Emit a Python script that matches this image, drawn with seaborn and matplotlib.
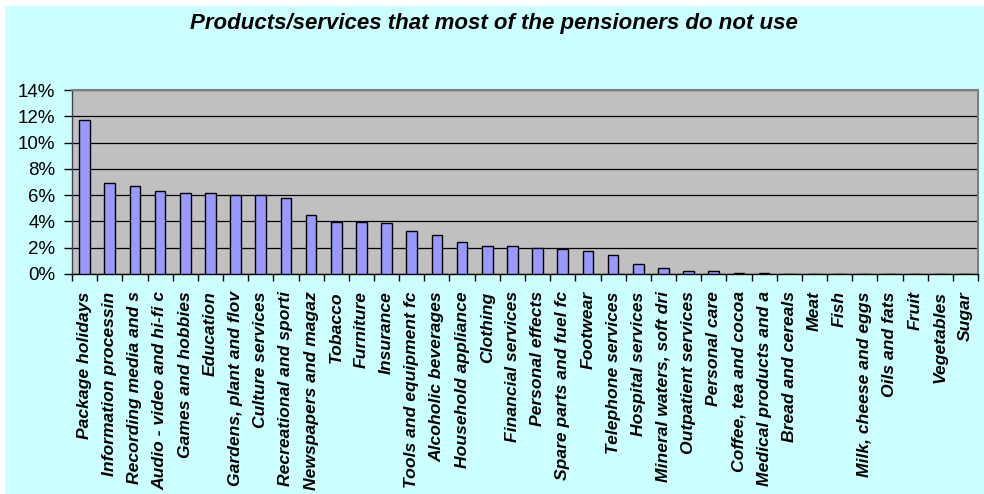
import numpy as np
import pandas as pd
import matplotlib
matplotlib.use("Agg")
import matplotlib.pyplot as plt
from matplotlib.patches import Rectangle
from matplotlib.ticker import PercentFormatter, FixedLocator
import seaborn as sns

# Share of pensioners who do not use each product/service (%)
categories = [
    "Package holidays", "Information processin", "Recording media and s",
    "Audio - video and hi-fi c", "Games and hobbies", "Education",
    "Gardens, plant and flov", "Culture services", "Recreational and sporti",
    "Newspapers and magaz", "Tobacco", "Furniture", "Insurance",
    "Tools and equipment fc", "Alcoholic beverages", "Household appliance",
    "Clothing", "Financial services", "Personal effects",
    "Spare parts and fuel fc", "Footwear", "Telephone services",
    "Hospital services", "Mineral waters, soft dri", "Outpatient services",
    "Personal care", "Coffee, tea and cocoa", "Medical products and a",
    "Bread and cereals", "Meat", "Fish", "Milk, cheese and eggs",
    "Oils and fats", "Fruit", "Vegetables", "Sugar",
]
shares = [
    11.7, 6.9, 6.7, 6.35, 6.2, 6.2, 6.0, 6.0, 5.8, 4.5, 3.95, 3.95, 3.85,
    3.3, 2.95, 2.4, 2.1, 2.1, 1.95, 1.87, 1.75, 1.42, 0.76, 0.43, 0.23,
    0.23, 0.1, 0.1, 0.0, 0.0, 0.0, 0.0, 0.0, 0.0, 0.0, 0.0,
]
y_ticks = [0, 2, 4, 6, 8, 10, 12, 14]
title = "Products/services that most of the pensioners do not use"

df = pd.DataFrame({"category": categories, "share": shares})

sns.set_theme(style="white")
plt.rcParams["font.family"] = ["Liberation Sans", "DejaVu Sans"]

W, H = 984, 494
fig = plt.figure(figsize=(W / 100, H / 100), dpi=100, facecolor="white")
# light cyan chart area with a thin white margin at top and left
fig.patches.append(Rectangle((5 / W, 0), 1, 1 - 6 / H, transform=fig.transFigure,
                             facecolor="#CCFFFF", edgecolor="none", zorder=-10))

ax = fig.add_axes([72 / W, 1 - 274 / H, 906 / W, 184 / H])
ax.set_facecolor("#C0C0C0")

sns.barplot(data=df, x="category", y="share", color="#9999FF", saturation=1,
            edgecolor="black", linewidth=1.0, width=0.42, ax=ax, zorder=3)

ax.set_xlim(-0.5, len(categories) - 0.5)
ax.set_ylim(0, 14)
ax.set_yticks(y_ticks)
ax.yaxis.set_major_formatter(PercentFormatter(decimals=0))
ax.yaxis.grid(True, color="black", linewidth=0.9, zorder=0)
ax.set_axisbelow(True)

ax.set_xlabel("")
ax.set_ylabel("")

# category labels at bar centres, tick marks at category boundaries
ax.set_xticks(np.arange(len(categories)))
ax.set_xticklabels(categories, rotation=90, fontsize=12.6,
                   fontstyle="italic", fontweight="bold")
ax.xaxis.set_minor_locator(FixedLocator(np.arange(-0.5, len(categories), 1)))
ax.tick_params(axis="x", which="major", length=0, pad=12.5, colors="black")
ax.tick_params(axis="x", which="minor", length=5, width=1, color="black",
               direction="out", bottom=True)
ax.tick_params(axis="y", which="major", length=6, width=1, color="black",
               direction="out", left=True, labelsize=13.5, pad=6,
               labelcolor="black")

for side in ("top", "right"):
    ax.spines[side].set_color("#808080")
    ax.spines[side].set_linewidth(1.5)
ax.spines["left"].set_color("#404040")
ax.spines["left"].set_linewidth(1.0)
ax.spines["bottom"].set_color("black")
ax.spines["bottom"].set_linewidth(1.0)
for s in ax.spines.values():
    s.set_visible(True)

fig.text(494 / W, 1 - 23 / H, title, ha="center", va="center",
         fontsize=16, fontstyle="italic", fontweight="bold", color="black")

fig.savefig("out.png", dpi=100)
